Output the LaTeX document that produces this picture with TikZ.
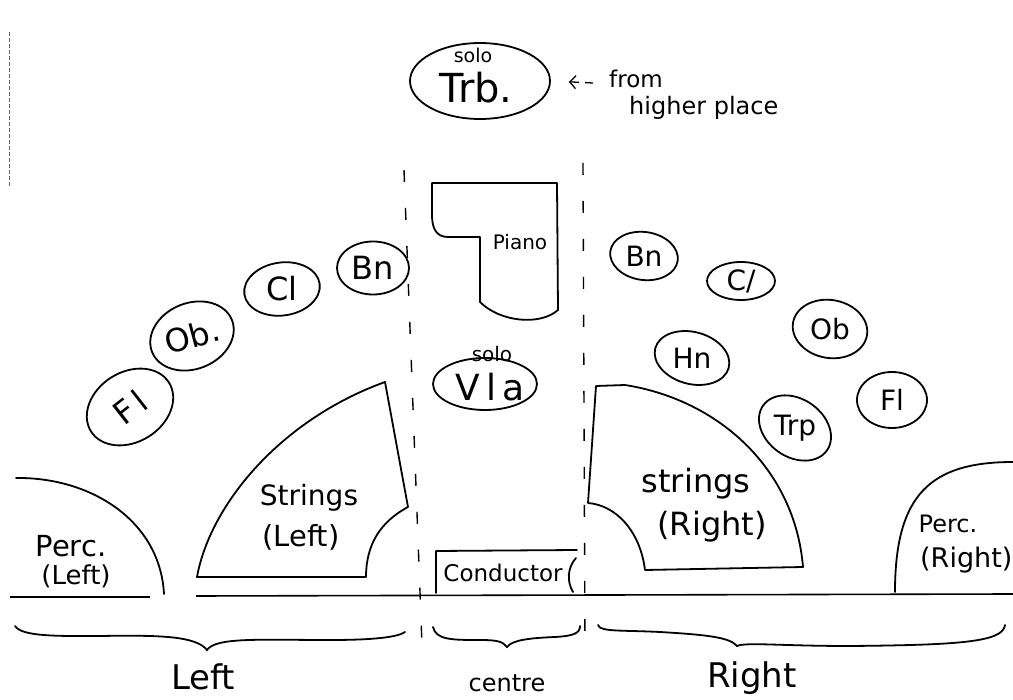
\documentclass[tikz,border=0pt]{standalone}
\usepackage{fontspec}
\setmainfont{DejaVu Sans}
\usetikzlibrary{shapes.geometric,arrows.meta}
\newcommand\hsz[1]{\fontsize{#1}{#1}\selectfont}
\begin{document}
\begin{tikzpicture}[x=1pt,y=-1pt,
  ink/.style={line width=1.8pt,line cap=round,line join=round},
  oval/.style={ellipse,draw,line width=1.8pt,inner sep=0pt},
  instL/.style={inner sep=0pt,font=\hsz{32}},
  instR/.style={inner sep=0pt,font=\hsz{28}},
  lbl/.style={inner sep=0pt,align=center},
  dashline/.style={line width=1.4pt,dash pattern=on 12pt off 26pt},
  brace/.style={line width=1.8pt,line cap=round},
]
\useasboundingbox (0,0) rectangle (1013,700);
% scanner artifact at left edge
\draw[line width=0.6pt,black!60,dash pattern=on 4pt off 2pt] (9,32) -- (9,187);

% ---- centre dashed lines
\draw[dashline] (404,170) -- (422,645);
\draw[dashline] (583,163) -- (585,652);

% ---- solo trombone
\node[oval,minimum width=140,minimum height=76] (trb) at (480,81) {};
\node[lbl,font=\hsz{19}] (trbsolo) at (473,55) {solo};
\node[lbl,font=\hsz{40}] (trbtxt) at (476,88) {Trb.};
\node[lbl,font=\hsz{23},anchor=west] (from) at (609,79) {from};
\node[lbl,font=\hsz{24},anchor=west] (higher) at (629,108) {higher place};
\coordinate (arrowtail) at (593,83);
\draw[line width=1.3pt,dash pattern=on 8pt off 6pt,-{Straight Barb[length=6pt,width=13pt,line width=1.3pt]},shorten >=18pt] (arrowtail) -- (trb.east);

% ---- piano
\draw[ink] (432,183) -- (557,183) -- (558,310)
  .. controls (540,326) and (500,322) .. (480,302) -- (480,237) -- (448,237)
  .. controls (436,237) and (432,228) .. (432,215) -- cycle;
\node[lbl,font=\hsz{20}] (piano) at (520,242) {Piano};

% ---- solo viola
\node[oval,minimum width=104,minimum height=52] (vla) at (485,384) {};
\node[lbl,font=\hsz{20}] (vlasolo) at (492,354) {solo};
\node[lbl,font=\hsz{36}] (vlatxt) at (490,387) {V\,l\,a};

% ---- conductor
\draw[ink] (436,593) -- (436,551) -- (577,550);
\draw[ink] (576,558) .. controls (567,568) and (567,582) .. (573,592);
\node[lbl,font=\hsz{23}] (cond) at (503,573) {Conductor};

% ---- stage front line
\draw[line width=1.6pt] (10,597) -- (150,597);
\draw[line width=1.6pt] (196,596) -- (1013,594);

% ---- left percussion
\draw[ink] (16,478) .. controls (90,477) and (160,520) .. (164,594);
\node[lbl,font=\hsz{29}] (percl1) at (71,546) {Perc.};
\node[lbl,font=\hsz{26}] (percl2) at (76,576) {(Left)};

% ---- left strings
\draw[ink] (197,577) .. controls (210,505) and (280,420) .. (385,382)
  -- (408,507) .. controls (380,522) and (366,545) .. (366,577) -- cycle;
\node[lbl,font=\hsz{28}] (strl1) at (309,498) {Strings};
\node[lbl,font=\hsz{29}] (strl2) at (301,537) {(Left)};

% ---- right strings
\draw[ink] (596,386) -- (588,503) .. controls (615,505) and (640,530) .. (645,570)
  -- (803,567) .. controls (795,470) and (720,400) .. (625,385) -- cycle;
\node[lbl,font=\hsz{32}] (strr1) at (696,484) {strings};
\node[lbl,font=\hsz{32}] (strr2) at (712,527) {(Right)};

% ---- right percussion
\draw[ink] (895,592) .. controls (895,495) and (930,462) .. (1013,462);
\node[lbl,font=\hsz{24}] (percr1) at (948,524) {Perc.};
\node[lbl,font=\hsz{27},anchor=west] (percr2) at (920,560) {(Right)};

% ---- left winds
\node[oval,minimum width=92,minimum height=70,rotate=32] (flL) at (130,407) {};
\node[instL,rotate=38] (flLt) at (flL) {F\,l};
\node[oval,minimum width=86,minimum height=66,rotate=22] (obL) at (192,336) {};
\node[instL,rotate=15] (obLt) at (obL) {Ob.};
\node[oval,minimum width=76,minimum height=53,rotate=8] (clL) at (282,289) {};
\node[instL] (clLt) at (clL) {Cl};
\node[oval,minimum width=72,minimum height=53] (bnL) at (373,268) {};
\node[instL] (bnLt) at (bnL) {Bn};

% ---- right winds
\node[oval,minimum width=68,minimum height=48,rotate=-8] (bnR) at (644,256) {};
\node[instR] (bnRt) at (bnR) {Bn};
\node[oval,minimum width=68,minimum height=38] (clR) at (741,281) {};
\node[instR] (clRt) at (clR) {C/};
\node[oval,minimum width=75,minimum height=58,rotate=-10] (obR) at (830,329) {};
\node[instR] (obRt) at (obR) {Ob};
\node[oval,minimum width=76,minimum height=52,rotate=-15] (hnR) at (692,358) {};
\node[instR] (hnRt) at (hnR) {Hn};
\node[oval,minimum width=70,minimum height=56] (flR) at (892,400) {};
\node[instR] (flRt) at (flR) {Fl};
\node[oval,minimum width=78,minimum height=58,rotate=-35] (trpR) at (795,428) {};
\node[instR] (trpRt) at (trpR) {Trp};

% ---- braces
\draw[brace] (15,626) .. controls (22,637) and (60,636) .. (100,636)
  .. controls (160,635) and (196,636) .. (207,650)
  .. controls (216,637) and (260,640) .. (330,640)
  .. controls (375,640) and (398,637) .. (405,632);
\draw[brace] (433,627) .. controls (436,640) and (452,640) .. (480,640)
  .. controls (495,640) and (503,641) .. (507,647)
  .. controls (512,640) and (530,638) .. (555,637)
  .. controls (574,636) and (580,633) .. (580,626);
\draw[brace] (598,625) .. controls (600,632) and (620,630) .. (660,632)
  .. controls (712,635) and (730,638) .. (737,646)
  .. controls (746,642) and (780,646) .. (850,646)
  .. controls (960,645) and (1003,642) .. (1005,625);
\node[lbl,font=\hsz{34}] (leftlbl) at (203,677) {Left};
\node[lbl,font=\hsz{24}] (centrelbl) at (507,683) {centre};
\node[lbl,font=\hsz{34}] (rightlbl) at (752,678) {Right};
\end{tikzpicture}
\end{document}
